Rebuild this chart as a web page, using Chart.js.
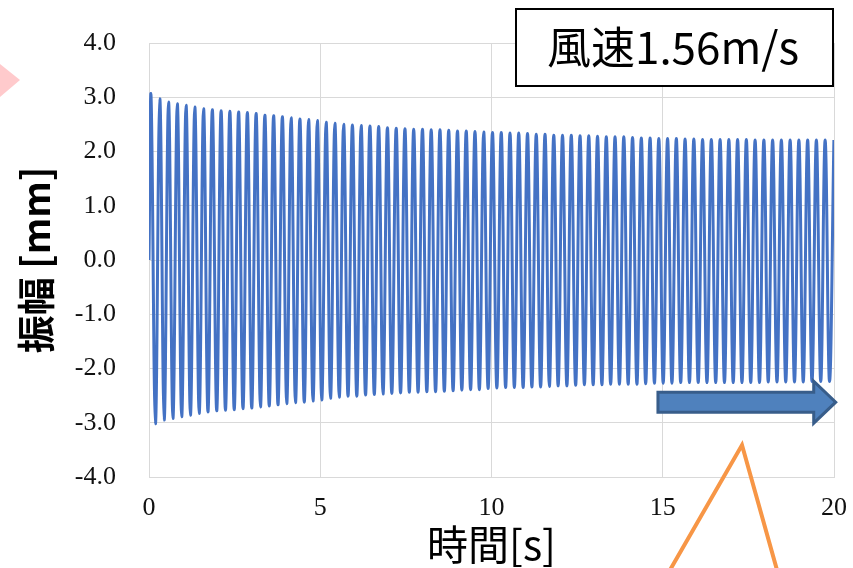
<!DOCTYPE html>
<html>
<head>
<meta charset="utf-8">
<script src="https://cdn.jsdelivr.net/npm/chart.js@4"></script>
<style>
  html, body { margin: 0; padding: 0; background: #fff; }
  #wrap { width: 853px; height: 568px; }
</style>
</head>
<body>
<div id="wrap"><canvas id="c" width="853" height="568"></canvas></div>
<script>
// oscillation timing (s): first crest and full period
const firstPeakTime = 0.06;
const period = 0.2556;

// crest amplitudes (mm), one per cycle
const peaks = [
  3.02, 2.97, 2.91, 2.88, 2.85, 2.82, 2.79, 2.77, 2.75, 2.74,
  2.73, 2.72, 2.70, 2.67, 2.66, 2.64, 2.62, 2.60, 2.59, 2.57,
  2.54, 2.52, 2.50, 2.49, 2.48, 2.47, 2.46, 2.44, 2.43, 2.42,
  2.41, 2.41, 2.40, 2.40, 2.39, 2.38, 2.38, 2.37, 2.36,
  2.35, 2.35, 2.34, 2.34, 2.33, 2.32, 2.32, 2.30, 2.30, 2.30,
  2.29, 2.29, 2.28, 2.27, 2.27, 2.27, 2.26, 2.25, 2.25,
  2.24, 2.24, 2.24, 2.23, 2.23, 2.22, 2.22, 2.22, 2.22, 2.22,
  2.22, 2.21, 2.21, 2.21, 2.21, 2.21, 2.21, 2.21, 2.21, 2.21, 2.21
];

// trough amplitudes (mm), one per cycle
const troughs = [
  -3.02, -2.95, -2.92, -2.89, -2.86, -2.83, -2.80, -2.78, -2.77, -2.76,
  -2.74, -2.73, -2.71, -2.69, -2.67, -2.65, -2.63, -2.62, -2.60,
  -2.58, -2.55, -2.53, -2.51, -2.51, -2.49, -2.48, -2.47, -2.46, -2.45,
  -2.44, -2.44, -2.43, -2.43, -2.42, -2.41, -2.40, -2.39, -2.39,
  -2.37, -2.36, -2.35, -2.35, -2.35, -2.34, -2.34, -2.33, -2.32, -2.32,
  -2.31, -2.30, -2.30, -2.30, -2.29, -2.29, -2.29, -2.29, -2.28, -2.27,
  -2.27, -2.27, -2.26, -2.26, -2.26, -2.26, -2.26, -2.26, -2.26, -2.26,
  -2.26, -2.26, -2.25, -2.25, -2.25, -2.25, -2.25, -2.24, -2.24, -2.24
];

const xTicks = [0, 5, 10, 15, 20];
const yTicks = [-4, -3, -2, -1, 0, 1, 2, 3, 4];

// crest, trough, crest ... starting from rest
const points = [{ x: 0, y: 0 }];
peaks.forEach((p, i) => {
  points.push({ x: firstPeakTime + i * period, y: p });
  if (i < troughs.length) {
    points.push({ x: firstPeakTime + (i + 0.5) * period, y: troughs[i] });
  }
});

const serif = "'Liberation Serif', 'Times New Roman', serif";
const cjk = "'Noto Sans CJK JP', 'Noto Sans', sans-serif";

// extra drawings: pink pointer, wind-speed box, blue arrow, orange callout
const extras = {
  id: 'extras',
  afterDatasetsDraw(chart) {
    const { ctx } = chart;
    const xs = chart.scales.x, ys = chart.scales.y;

    // block arrow along the steady part of the record
    const x0 = xs.getPixelForValue(14.86);
    const x1 = xs.getPixelForValue(20.05);
    const yc = ys.getPixelForValue(-2.62);
    const bh = 10, hh = 21, hl = 22;
    ctx.save();
    ctx.beginPath();
    ctx.moveTo(x0, yc - bh);
    ctx.lineTo(x1 - hl, yc - bh);
    ctx.lineTo(x1 - hl, yc - hh);
    ctx.lineTo(x1, yc);
    ctx.lineTo(x1 - hl, yc + hh);
    ctx.lineTo(x1 - hl, yc + bh);
    ctx.lineTo(x0, yc + bh);
    ctx.closePath();
    ctx.fillStyle = '#4f81bd';
    ctx.fill();
    ctx.lineWidth = 3;
    ctx.strokeStyle = '#385d8a';
    ctx.stroke();
    ctx.restore();
  },
  afterDraw(chart) {
    const { ctx } = chart;
    ctx.save();

    // pink pointer at the left edge
    ctx.beginPath();
    ctx.moveTo(0, 64);
    ctx.lineTo(20, 80);
    ctx.lineTo(0, 97);
    ctx.closePath();
    ctx.fillStyle = '#ffcacc';
    ctx.fill();

    // wind speed label
    ctx.fillStyle = '#fff';
    ctx.fillRect(516, 9, 317, 77);
    ctx.lineWidth = 2;
    ctx.strokeStyle = '#000';
    ctx.strokeRect(516, 9, 317, 77);
    ctx.fillStyle = '#000';
    ctx.font = '44px ' + cjk;
    ctx.textAlign = 'center';
    ctx.textBaseline = 'middle';
    ctx.fillText('風速1.56m/s', 673, 47);

    // orange callout lines
    ctx.beginPath();
    ctx.moveTo(670, 570);
    ctx.lineTo(742, 445);
    ctx.lineTo(777, 570);
    ctx.lineWidth = 4;
    ctx.strokeStyle = '#f79646';
    ctx.lineJoin = 'miter';
    ctx.stroke();
    ctx.restore();
  }
};

new Chart(document.getElementById('c'), {
  type: 'line',
  data: {
    datasets: [{
      data: points,
      borderColor: '#4472c4',
      borderWidth: 3,
      pointRadius: 0,
      tension: 0.4,
      fill: false
    }]
  },
  options: {
    responsive: false,
    animation: false,
    devicePixelRatio: 1,
    layout: { padding: { top: 43, right: 19, bottom: 0, left: 0 } },
    plugins: { legend: { display: false }, tooltip: { enabled: false } },
    scales: {
      x: {
        type: 'linear',
        min: 0,
        max: 20,
        afterBuildTicks: (s) => { s.ticks = xTicks.map(v => ({ value: v })); },
        afterFit: (s) => { s.height = 91; },
        grid: { color: '#d9d9d9', tickColor: 'rgba(0,0,0,0)', tickLength: 13 },
        border: { color: '#d9d9d9' },
        ticks: {
          padding: 3,
          color: '#111',
          font: { family: serif, size: 26 },
          maxRotation: 0
        },
        title: {
          display: true,
          text: '時間[s]',
          color: '#000',
          font: { family: cjk, size: 41, lineHeight: 1 },
          padding: { top: 0, bottom: 3 }
        }
      },
      y: {
        min: -4,
        max: 4,
        afterBuildTicks: (s) => { s.ticks = yTicks.map(v => ({ value: v })); },
        afterFit: (s) => { s.width = 149; },
        grid: { color: '#d9d9d9', tickColor: 'rgba(0,0,0,0)', tickLength: 30 },
        border: { color: '#d9d9d9' },
        ticks: {
          padding: 3,
          color: '#111',
          font: { family: serif, size: 26 },
          callback: (v) => Number(v).toFixed(1)
        },
        title: {
          display: true,
          text: '振幅 [mm]',
          color: '#000',
          font: { family: cjk, size: 38, weight: 'bold', lineHeight: 1 },
          padding: { top: 17, bottom: 0 }
        }
      }
    }
  },
  plugins: [extras]
});
</script>
</body>
</html>
